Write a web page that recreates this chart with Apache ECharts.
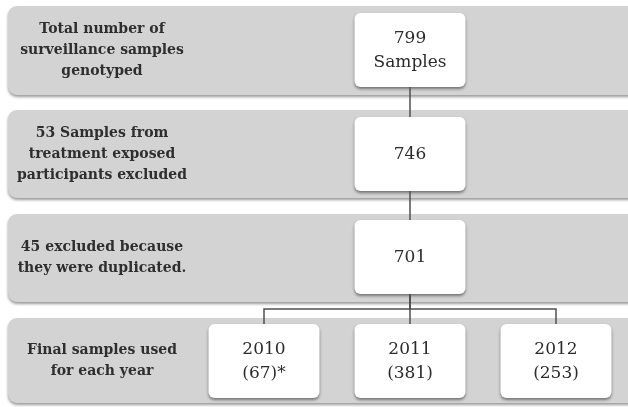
<!DOCTYPE html>
<html>
<head>
<meta charset="utf-8">
<script src="https://cdn.jsdelivr.net/npm/echarts@6/dist/echarts.min.js"></script>
<style>
  html, body { margin: 0; padding: 0; background: #fff; }
  #flow { width: 628px; height: 407px; }
</style>
</head>
<body>
<div id="flow"></div>
<script>
// row labels (left side of each grey band)
const stepLabels = [
    'Total number of\nsurveillance samples\ngenotyped',
    '53 Samples from\ntreatment exposed\nparticipants excluded',
    '45 excluded because\nthey were duplicated.',
    'Final samples used\nfor each year'
];
// counts in the centre box of the first three rows
const stepCounts = [799, 746, 701];
const stepUnits = ['Samples', '', ''];
// last row, one box per year
const years = ['2010', '2011', '2012'];
const yearCounts = [67, 381, 253];
const yearNotes = ['*', '', ''];

// layout (pixel-like units on the hidden axes)
const bandLeft = 8, bandRight = 640;
const bandTop = [6, 110, 214, 318];
const bandBottom = [95, 198, 302, 403];
const boxTop = [13, 117, 220, 324];
const boxH = 74, boxW = 111;
const mainX = 410;
const yearX = [264, 410, 556];
const splitY = 309;
const labelX = 102;

const FONT = '"DejaVu Serif", "Liberation Serif", serif';

function rectFrom(api, x0, y0, x1, y1) {
    var p0 = api.coord([x0, y0]);
    var p1 = api.coord([x1, y1]);
    return { x: p0[0], y: p0[1], width: p1[0] - p0[0], height: p1[1] - p0[1] };
}

function boxEl(api, cx, top, txt) {
    var r = rectFrom(api, cx - boxW / 2, top, cx + boxW / 2, top + boxH);
    var c = api.coord([cx, top + boxH / 2]);
    return [{
        type: 'rect',
        shape: Object.assign(r, { r: 6 }),
        style: {
            fill: '#ffffff',
            shadowBlur: 3,
            shadowOffsetY: 2,
            shadowOffsetX: 0,
            shadowColor: 'rgba(0,0,0,0.45)'
        }
    }, {
        type: 'text',
        style: {
            text: txt,
            x: c[0],
            y: c[1] + 1,
            align: 'center',
            verticalAlign: 'middle',
            fill: '#2b2b2b',
            font: '17px ' + FONT,
            lineHeight: 24
        }
    }];
}

// one data item per band
var rows = stepLabels.map(function (l, i) { return [i]; });

// connectors: [fromRow, kind, yearIndex]; kind 0 = straight chain, 1 = split to a year box
var links = [];
for (var i = 0; i < stepCounts.length - 1; i++) links.push([i, 0, 0]);
for (var j = 0; j < years.length; j++) links.push([stepCounts.length - 1, 1, j]);

var option = {
    animation: false,
    backgroundColor: '#ffffff',
    grid: { left: 0, right: 0, top: 0, bottom: 0 },
    xAxis: { type: 'value', min: 0, max: 628, show: false },
    yAxis: { type: 'value', min: 0, max: 407, inverse: true, show: false },
    series: [{
        type: 'custom',
        coordinateSystem: 'cartesian2d',
        data: rows,
        z: 1,
        renderItem: function (params, api) {
            var i = api.value(0);
            var children = [];
            var band = rectFrom(api, bandLeft, bandTop[i], bandRight, bandBottom[i]);
            children.push({
                type: 'rect',
                shape: Object.assign(band, { r: 9 }),
                style: {
                    fill: '#d3d3d3',
                    shadowBlur: 3,
                    shadowOffsetY: 2,
                    shadowColor: 'rgba(0,0,0,0.4)'
                }
            });
            var lc = api.coord([labelX, (bandTop[i] + bandBottom[i]) / 2]);
            children.push({
                type: 'text',
                style: {
                    text: stepLabels[i],
                    x: lc[0],
                    y: lc[1],
                    align: 'center',
                    verticalAlign: 'middle',
                    fill: '#2e2e2e',
                    font: 'bold 14px ' + FONT,
                    lineHeight: 21
                }
            });
            if (i < stepCounts.length) {
                var t = String(stepCounts[i]) + (stepUnits[i] ? '\n' + stepUnits[i] : '');
                children = children.concat(boxEl(api, mainX, boxTop[i], t));
            } else {
                for (var k = 0; k < years.length; k++) {
                    var tt = years[k] + '\n(' + yearCounts[k] + ')' + yearNotes[k];
                    children = children.concat(boxEl(api, yearX[k], boxTop[i], tt));
                }
            }
            return { type: 'group', children: children };
        }
    }, {
        type: 'custom',
        coordinateSystem: 'cartesian2d',
        data: links,
        dimensions: ['from', 'kind', 'year'],
        encode: { x: 0, y: 1 },
        z: 3,
        renderItem: function (params, api) {
            var from = api.value(0);
            var kind = api.value(1);
            var y0 = boxTop[from] + boxH;
            var pts;
            if (kind === 0) {
                pts = [[mainX, y0], [mainX, boxTop[from + 1]]];
            } else {
                var x = yearX[api.value(2)];
                pts = [[mainX, y0], [mainX, splitY], [x, splitY], [x, boxTop[from + 1]]];
            }
            return {
                type: 'polyline',
                shape: { points: pts.map(function (p) { return api.coord(p); }) },
                style: { stroke: '#505050', lineWidth: 1.5, fill: null }
            };
        }
    }]
};

var flowChart = echarts.init(document.getElementById('flow'));
flowChart.setOption(option);
</script>
</body>
</html>
